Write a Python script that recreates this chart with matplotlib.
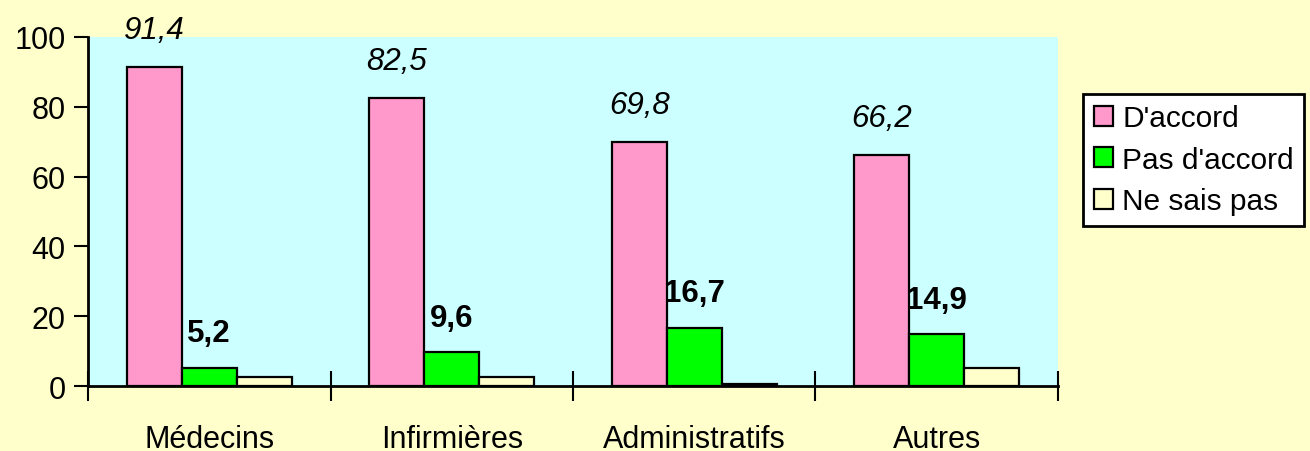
import numpy as np
import matplotlib.pyplot as plt

plt.rcParams['font.family'] = ['Liberation Sans', 'DejaVu Sans']

categories = ['Médecins', 'Infirmières', 'Administratifs', 'Autres']
series_names = ["D'accord", "Pas d'accord", 'Ne sais pas']
d_accord = [91.4, 82.5, 69.8, 66.2]
pas_accord = [5.2, 9.6, 16.7, 14.9]
ne_sais_pas = [2.5, 2.6, 0.7, 5.3]
colors = ['#FF99CC', '#00FF00', '#FFFFCC']

fig = plt.figure(figsize=(13.1, 4.52), dpi=100, facecolor='#FFFFCC')
ax = fig.add_axes([0.0672, 0.1438, 0.7404, 0.7722])
ax.set_facecolor('#CCFFFF')

x = np.arange(len(categories))
w = 0.227
all_vals = [d_accord, pas_accord, ne_sais_pas]
for i, vals in enumerate(all_vals):
    ax.bar(x + (i - 1) * w, vals, w, color=colors[i], edgecolor='black',
           linewidth=1.6, label=series_names[i], zorder=3)

# étiquettes de valeurs
for xi, v in zip(x - w, d_accord):
    ax.annotate(f'{v:.1f}'.replace('.', ','), (xi, v), xytext=(0, 21),
                textcoords='offset points', ha='center', va='baseline',
                fontsize=22.5, fontstyle='italic', annotation_clip=False)
for xi, v in zip(x, pas_accord):
    ax.annotate(f'{v:.1f}'.replace('.', ','), (xi, v), xytext=(0, 19),
                textcoords='offset points', ha='center', va='baseline',
                fontsize=22.5, fontweight='bold', annotation_clip=False)

ax.set_xlim(-0.5, 3.5)
ax.set_ylim(0, 100)
ax.set_yticks(range(0, 101, 20))
ax.set_xticks(np.arange(-0.5, 4, 1))
ax.set_xticklabels([])
ax.set_xticks(x, minor=True)
ax.set_xticklabels(categories, minor=True)
ax.tick_params(axis='x', which='major', direction='inout', length=22, width=1.5)
ax.tick_params(axis='x', which='minor', length=0, pad=27, labelsize=22)
ax.tick_params(axis='y', direction='out', length=10, width=1.5, labelsize=22, pad=6)

for s in ['top', 'right']:
    ax.spines[s].set_visible(False)
for s in ['left', 'bottom']:
    ax.spines[s].set_linewidth(2)

leg = fig.legend(loc='upper left', bbox_to_anchor=(0.827, 0.79), fontsize=21.5,
                 frameon=True, fancybox=False, edgecolor='black', facecolor='white',
                 framealpha=1, handlelength=0.65, handleheight=0.65,
                 handletextpad=0.3, labelspacing=0.45, borderpad=0.35,
                 borderaxespad=0)
leg.get_frame().set_linewidth(2)

fig.savefig('out.png', dpi=100, facecolor=fig.get_facecolor())
